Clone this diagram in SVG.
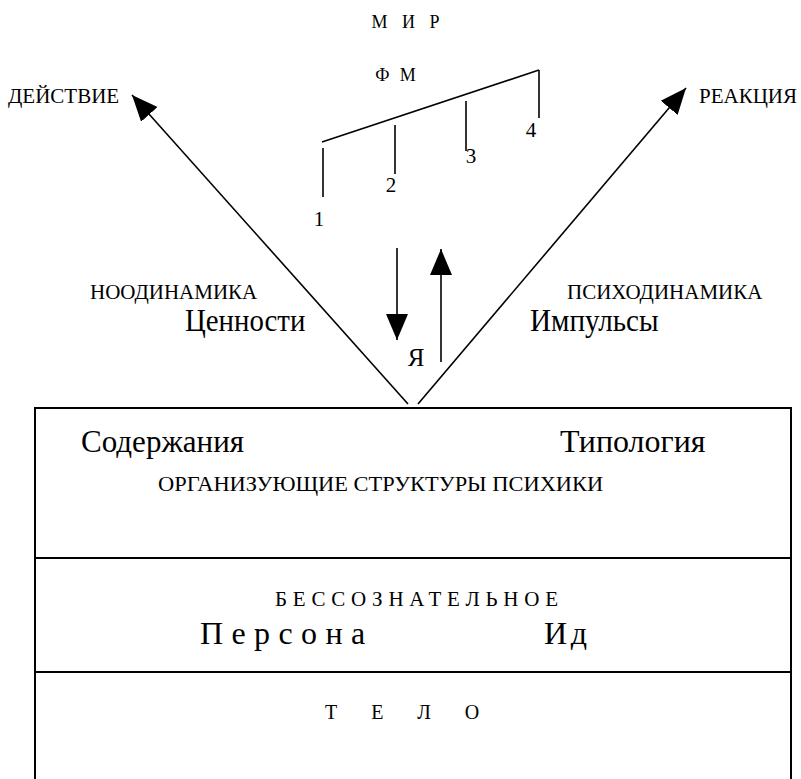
<svg xmlns="http://www.w3.org/2000/svg" width="801" height="779" viewBox="0 0 801 779">
<style>
.ln{stroke:#000;stroke-width:1.6;fill:none}
.bx{stroke:#000;stroke-width:2;fill:#fff}
</style>
<defs>
<marker id="ah" markerUnits="userSpaceOnUse" markerWidth="28" markerHeight="24" refX="26" refY="11" orient="auto" viewBox="0 0 28 22">
<path d="M0,0 L26,11 L0,22 z" fill="#000"/>
</marker>
</defs>
<rect width="801" height="779" fill="#fff"/>
<g id="world">
<text font-family="Liberation Serif" font-size="18" x="408" y="28" text-anchor="middle" letter-spacing="5">М И Р</text>
<text font-family="Liberation Serif" font-size="18" x="397" y="81" text-anchor="middle" letter-spacing="3">Ф М</text>
</g>
<g id="fm-scale">
<line class="ln" x1="322" y1="142" x2="539" y2="70"/>
<line class="ln" x1="323" y1="148" x2="323" y2="197"/>
<line class="ln" x1="395" y1="125" x2="395" y2="174"/>
<line class="ln" x1="466" y1="101" x2="466" y2="151"/>
<line class="ln" x1="539" y1="70" x2="539" y2="118"/>
<text font-family="Liberation Serif" font-size="21" x="319" y="226" text-anchor="middle">1</text>
<text font-family="Liberation Serif" font-size="21" x="391" y="192" text-anchor="middle">2</text>
<text font-family="Liberation Serif" font-size="21" x="471" y="163" text-anchor="middle">3</text>
<text font-family="Liberation Serif" font-size="21" x="531" y="137" text-anchor="middle">4</text>
</g>
<g id="action"><text font-family="Liberation Serif" font-size="21" x="8" y="103">ДЕЙСТВИЕ</text></g>
<g id="reaction"><text font-family="Liberation Serif" font-size="21" x="699" y="103">РЕАКЦИЯ</text></g>
<g id="noodynamics">
<text font-family="Liberation Serif" font-size="21" x="90" y="299">НООДИНАМИКА</text>
<text font-family="Liberation Serif" font-size="32" transform="translate(185,331) scale(0.9,1)">Ценности</text>
</g>
<g id="psychodynamics">
<text font-family="Liberation Serif" font-size="21" x="567" y="299">ПСИХОДИНАМИКА</text>
<text font-family="Liberation Serif" font-size="32" transform="translate(530,331) scale(0.91,1)">Импульсы</text>
</g>
<g id="ego"><text font-family="Liberation Serif" font-size="25" x="416" y="366" text-anchor="middle">Я</text></g>
<g id="structures">
<rect class="bx" x="35" y="408" width="756" height="150"/>
<text font-family="Liberation Serif" font-size="32" transform="translate(81,452) scale(0.97,1)">Содержания</text>
<text font-family="Liberation Serif" font-size="32" x="560" y="452">Типология</text>
<text font-family="Liberation Serif" font-size="22" transform="translate(158,491) scale(1.02,1)">ОРГАНИЗУЮЩИЕ  СТРУКТУРЫ  ПСИХИКИ</text>
</g>
<g id="unconscious">
<rect class="bx" x="35" y="558" width="756" height="114"/>
<text font-family="Liberation Serif" font-size="21" x="275" y="606" letter-spacing="5.8">БЕССОЗНАТЕЛЬНОЕ</text>
<text font-family="Liberation Serif" font-size="32" x="200" y="644" letter-spacing="8.4">Персона</text>
<text font-family="Liberation Serif" font-size="32" x="544" y="644" letter-spacing="3.6">Ид</text>
</g>
<g id="body">
<rect class="bx" x="35" y="672" width="756" height="110"/>
<text font-family="Liberation Serif" font-size="20" x="325" y="719" letter-spacing="34">ТЕЛО</text>
</g>
<g id="connectors">
<line class="ln" x1="408" y1="404" x2="132" y2="95" marker-end="url(#ah)"/>
<line class="ln" x1="418" y1="404" x2="686" y2="88" marker-end="url(#ah)"/>
<line class="ln" x1="397" y1="248" x2="397" y2="340" marker-end="url(#ah)"/>
<line class="ln" x1="441" y1="362" x2="441" y2="249" marker-end="url(#ah)"/>
</g>
</svg>
